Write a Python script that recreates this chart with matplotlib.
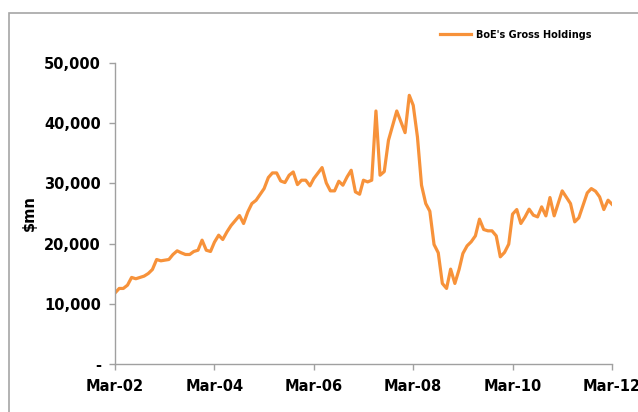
import numpy as np
import pandas as pd
import matplotlib
matplotlib.use("Agg")
import matplotlib.pyplot as plt
import matplotlib.dates as mdates
from matplotlib.ticker import FuncFormatter, MultipleLocator
from matplotlib.patches import Rectangle

# Data: months after Mar-2002, BoE gross holdings ($mn)
months = [0, 1, 2, 3, 4, 5, 7, 8, 9, 10, 11, 13, 14, 15, 16, 17, 18, 19, 20,
          21, 22, 23, 24, 25, 26, 27, 28, 30, 31, 32, 33, 34, 36, 37, 38, 39,
          40, 41, 42, 43, 44, 45, 46, 47, 48, 50, 51, 52, 53, 54, 55, 56, 57,
          58, 59, 60, 61, 62, 63, 64, 65, 66, 68, 70, 71, 72, 73, 74, 75, 76,
          77, 78, 79, 80, 81, 82, 83, 84, 85, 86, 87, 88, 89, 90, 91, 92, 93,
          94, 95, 96, 97, 98, 99, 100, 101, 102, 103, 104, 105, 106, 108, 110,
          111, 112, 114, 115, 116, 117, 118, 119, 120]
holdings = [11800, 12550, 12550, 13100, 14380, 14160, 14600, 15040, 15700,
            17360, 17140, 17360, 18190, 18800, 18470, 18190, 18190, 18690,
            18900, 20570, 18900, 18690, 20240, 21400, 20680, 21950, 23000,
            24660, 23340, 25270, 26650, 27200, 29140, 30970, 31740, 31740,
            30400, 30140, 31360, 31900, 29800, 30530, 30530, 29590, 30800,
            32630, 30080, 28760, 28760, 30360, 29700, 31080, 32180, 28590,
            28200, 30530, 30250, 30530, 42030, 31360, 31960, 37160, 42030,
            38430, 44630, 42970, 37710, 29700, 26650, 25380, 19850, 18470,
            13380, 12550, 15760, 13380, 15700, 18360, 19630, 20300, 21290,
            24060, 22340, 22120, 22120, 21290, 17800, 18530, 19910, 24890,
            25660, 23340, 24440, 25720, 24720, 24440, 26100, 24610, 27650,
            24610, 28760, 26650, 23610, 24280, 28420, 29140, 28700, 27760,
            25660, 27210, 26540]

start = pd.Timestamp("2002-03-01")
dates = [start + pd.DateOffset(months=m) for m in months]

fig = plt.figure(figsize=(6.38, 4.12), dpi=100)
ax = fig.add_axes([115 / 638, 1 - 364 / 412, 497 / 638, 301 / 412])

# outer grey frame of the exhibit
fig.patches.append(Rectangle((9 / 638, -0.1), 1.2, 1 - 13.5 / 412 + 0.1,
                             transform=fig.transFigure, fill=False,
                             edgecolor="#a6a6a6", linewidth=1.2))

ax.plot(dates, holdings, color="#F7923A", linewidth=2.3,
        label="BoE's Gross Holdings", solid_joinstyle="round")

ax.set_xlim(start, pd.Timestamp("2012-03-01"))
ax.set_ylim(0, 50000)
ax.yaxis.set_major_locator(MultipleLocator(10000))
ax.yaxis.set_major_formatter(FuncFormatter(lambda v, p: "-" if v == 0 else "{:,.0f}".format(v)))
ax.xaxis.set_major_locator(mdates.MonthLocator(bymonth=3, interval=24))
ax.xaxis.set_major_formatter(mdates.DateFormatter("%b-%y"))

for s in ["top", "right"]:
    ax.spines[s].set_visible(False)
for s in ["left", "bottom"]:
    ax.spines[s].set_color("#a0a0a0")
    ax.spines[s].set_linewidth(1.0)
ax.tick_params(axis="both", colors="#a0a0a0", length=4, width=1.0,
               labelcolor="black", labelsize=10.5)
ax.tick_params(axis="y", pad=6)
ax.tick_params(axis="x", pad=7)
for lab in ax.get_xticklabels() + ax.get_yticklabels():
    lab.set_fontweight("bold")

ax.set_ylabel("$mn", fontsize=10.5, fontweight="bold", labelpad=5)

leg = ax.legend(loc="upper left", bbox_to_anchor=(0.636, 1.14), frameon=False,
                prop={"size": 7, "weight": "bold"}, handlelength=3.2,
                handletextpad=0.5)

fig.savefig("out.png", dpi=100)
